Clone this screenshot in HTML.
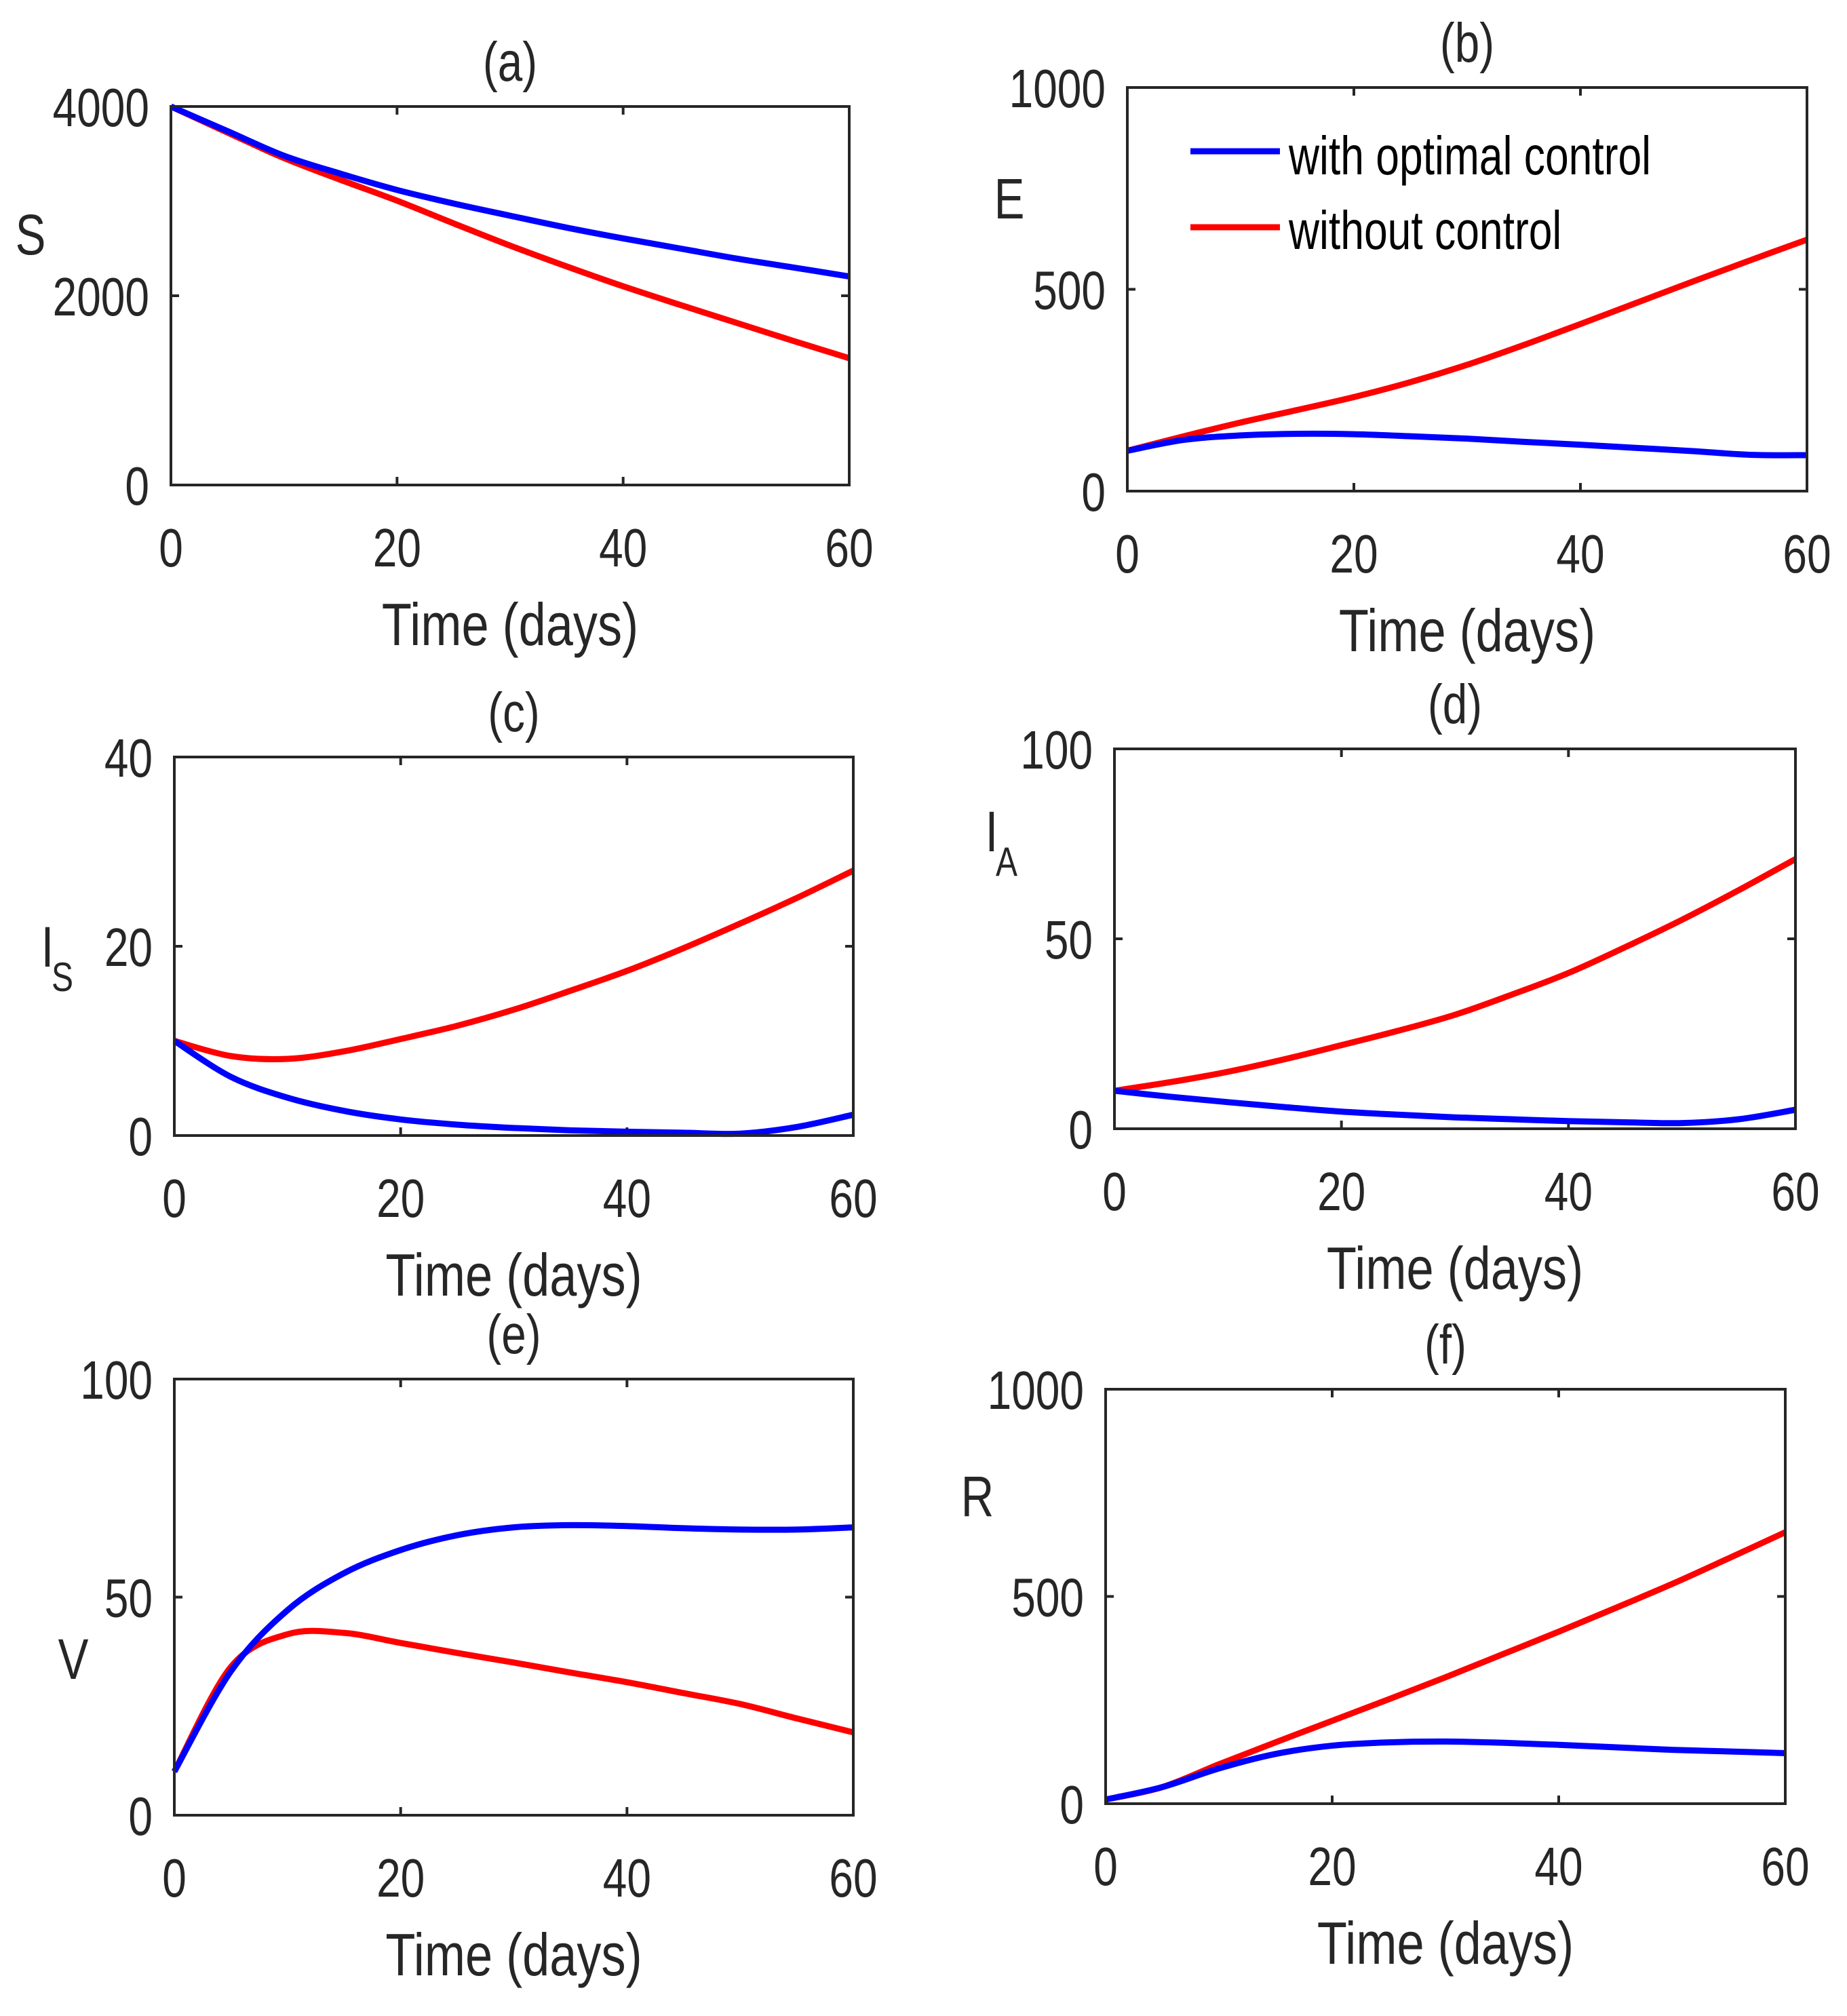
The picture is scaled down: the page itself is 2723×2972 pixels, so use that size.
<!DOCTYPE html>
<html><head><meta charset="utf-8"><style>
html,body{margin:0;padding:0;background:#fff;}
svg{display:block;font-family:"Liberation Sans",sans-serif;}
</style></head><body>
<svg id="fig" width="2723" height="2972" viewBox="0 0 2723 2972" xmlns="http://www.w3.org/2000/svg"></svg>
<script>
const days = [0,5,10,15,20,25,30,35,40,45,50,55,60];
const sBlue = [4000,3740,3480,3290,3118,2975,2846,2720,2606,2500,2394,2300,2204];
const sRed  = [4000,3725,3455,3225,3005,2765,2530,2310,2100,1905,1715,1525,1340];
const eBlue = [100,127,138,142,141,136,130,122,115,107,99,90,89];
const eRed  = [100,136,170,201,233,270,313,362,414,467,520,572,623];
const isBlue = [10,6.2,4,2.6,1.7,1.15,0.8,0.55,0.4,0.3,0.2,0.9,2.2];
const isRed  = [10,8.4,8.1,8.9,10.2,11.6,13.3,15.3,17.4,19.8,22.4,25.1,28];
const iaBlue = [10,8.4,7,5.7,4.5,3.7,3,2.5,2,1.7,1.5,2.5,5];
const iaRed  = [10,12.3,15,18.3,22,25.8,30,35.3,41,47.8,55,62.8,71];
const vBlue = [10,33,47,55.5,60.8,64.2,66,66.5,66.3,65.8,65.5,65.5,66];
const vRed  = [10,34,41.5,41.8,39.5,37.2,35,32.7,30.5,28,25.5,22.2,19];
const rBlue = [10,40,85,120,140,148,150,147,142,136,130,126,122];
const rRed  = [10,40,95,148,200,252,305,360,415,472,530,592,655];
const xTicks = [0,20,40,60];

const panels = [
 {id:'a',title:'(a)',x0:252,x1:1252,y0:157,y1:715,ymax:4000,yTicks:[0,2000,4000],blue:sBlue,red:sRed,yl:'S',ylx:45,yly:375},
 {id:'b',title:'(b)',x0:1662,x1:2664,y0:129,y1:724,ymax:1000,yTicks:[0,500,1000],blue:eBlue,red:eRed,yl:'E',ylx:1488,yly:322,legend:true},
 {id:'c',title:'(c)',x0:257,x1:1258,y0:1116,y1:1674,ymax:40,yTicks:[0,20,40],blue:isBlue,red:isRed,yl:'I',sub:'S',ylx:70,yly:1425},
 {id:'d',title:'(d)',x0:1643,x1:2647,y0:1104,y1:1664,ymax:100,yTicks:[0,50,100],blue:iaBlue,red:iaRed,yl:'I',sub:'A',ylx:1462,yly:1255},
 {id:'e',title:'(e)',x0:257,x1:1258,y0:2033,y1:2676,ymax:100,yTicks:[0,50,100],blue:vBlue,red:vRed,yl:'V',ylx:108,yly:2475},
 {id:'f',title:'(f)',x0:1630,x1:2632,y0:2048,y1:2659,ymax:1000,yTicks:[0,500,1000],blue:rBlue,red:rRed,yl:'R',ylx:1441,yly:2235}
];
const NS='http://www.w3.org/2000/svg';
const svg=document.getElementById('fig');
function mk(tag,attrs,parent){const e=document.createElementNS(NS,tag);for(const k in attrs)e.setAttribute(k,attrs[k]);(parent||svg).appendChild(e);return e;}
function txt(s,x,y,size,anchor,parent,sx){
 const t=mk('text',{x:0,y:0,'font-size':size,'text-anchor':anchor,fill:'#262626',transform:`translate(${x},${y}) scale(${sx||0.8},1)`},parent);
 t.textContent=s;return t;}
function smoothPath(pts){
 let d=`M${pts[0][0]},${pts[0][1]}`;
 for(let i=0;i<pts.length-1;i++){
  const p0=pts[Math.max(0,i-1)],p1=pts[i],p2=pts[i+1],p3=pts[Math.min(pts.length-1,i+2)];
  const c1=[p1[0]+(p2[0]-p0[0])/6,p1[1]+(p2[1]-p0[1])/6];
  const c2=[p2[0]-(p3[0]-p1[0])/6,p2[1]-(p3[1]-p1[1])/6];
  d+=` C${c1[0]},${c1[1]} ${c2[0]},${c2[1]} ${p2[0]},${p2[1]}`;}
 return d;}
panels.forEach(p=>{
 const g=mk('g',{});
 
 
 const xs=v=>p.x0+(v-0)/60*(p.x1-p.x0);
 const ys=v=>p.y1-v/p.ymax*(p.y1-p.y0);
 xTicks.forEach(t=>{
  const x=xs(t);
  if(t>0&&t<60){
   const a=mk('line',{x1:x,x2:x,y1:p.y1,y2:p.y1-12,stroke:'#262626','stroke-width':4},g);
   
   
   mk('line',{x1:x,x2:x,y1:p.y0,y2:p.y0+12,stroke:'#262626','stroke-width':4},g);}
  const l=txt(String(t),x,p.y1+120,80,'middle',g);
  
  
 });
 p.yTicks.forEach(t=>{
  const y=ys(t);
  if(t>0&&t<p.ymax){
   mk('line',{x1:p.x0,x2:p.x0+12,y1:y,y2:y,stroke:'#262626','stroke-width':4},g);
   mk('line',{x1:p.x1,x2:p.x1-12,y1:y,y2:y,stroke:'#262626','stroke-width':4},g);}
  const l=txt(String(t),p.x0-32,y+29,80,'end',g);
  
  
 });
 [['red',p.red,'#ff0000'],['blue',p.blue,'#0000ff']].forEach(([n,arr,c])=>{
  const pts=days.map((d,i)=>[xs(d),ys(arr[i])]);
  const path=mk('path',{d:smoothPath(pts),fill:'none',stroke:c,'stroke-width':9,'stroke-linejoin':'round'},g);
  
  
 });
 const box=mk('rect',{x:p.x0,y:p.y0,width:p.x1-p.x0,height:p.y1-p.y0,fill:'none',stroke:'#262626','stroke-width':4},g);
 
 
 const ti=txt(p.title,(p.x0+p.x1)/2,p.y0-38,82,'middle',g);
 
 
 const xl=txt('Time (days)',(p.x0+p.x1)/2,p.y1+236,88,'middle',g,0.82);
 
 
 const yl=txt(p.yl,p.ylx,p.yly,84,'middle',g);
 
 
 if(p.sub){
  const sb=txt(p.sub,p.ylx+22,p.yly+36,60,'middle',g);
  
  }
 if(p.legend){
  const lg=mk('g',{},g);
  
  
  mk('line',{x1:1755,x2:1887,y1:223,y2:223,stroke:'#0000ff','stroke-width':9},lg);
  const t1=txt('with optimal control',1900,257,80,'start',lg,0.78);
  
  
  t1.setAttribute('fill','#000');
  mk('line',{x1:1755,x2:1887,y1:335,y2:335,stroke:'#ff0000','stroke-width':9},lg);
  const t2=txt('without control',1900,367,80,'start',lg,0.78);
  
  
  t2.setAttribute('fill','#000');
 }
});
</script>
</body></html>
